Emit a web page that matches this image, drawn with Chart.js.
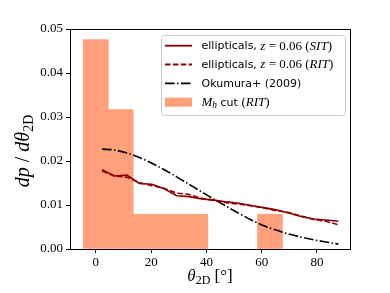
<!DOCTYPE html>
<html><head><meta charset="utf-8">
<script src="https://cdn.jsdelivr.net/npm/chart.js@4/dist/chart.umd.min.js"></script>
<style>html,body{margin:0;padding:0;background:#fff}#wrap{width:390px;height:293px;position:relative}</style>
</head><body><div id="wrap"><canvas id="c" width="390" height="293"></canvas></div>
<script>
// ---- data ----
const histCenters = [0, 9, 18, 27, 36, 63];
const histHeights = [0.0476, 0.0317, 0.0079, 0.0079, 0.0079, 0.0079];
const thetas = [2.25, 6.75, 11.25, 15.75, 20.25, 24.75, 29.25, 33.75, 38.25, 42.75,
                47.25, 51.75, 56.25, 60.75, 65.25, 69.75, 74.25, 78.75, 83.25, 87.75];
const sitValues = [0.0180, 0.0166, 0.0168, 0.0149, 0.0147, 0.0137, 0.0121, 0.0119, 0.0114, 0.0111,
                   0.0107, 0.0104, 0.0099, 0.0094, 0.0089, 0.0082, 0.0074, 0.0068, 0.0066, 0.0063];
const ritValues = [0.0177, 0.0166, 0.0163, 0.0151, 0.0144, 0.0138, 0.0127, 0.0124, 0.0115, 0.0111,
                   0.0105, 0.0102, 0.0098, 0.0093, 0.0087, 0.0083, 0.0075, 0.0067, 0.0063, 0.0055];
const okumuraValues = [0.0227, 0.0225, 0.0218, 0.0208, 0.0195, 0.0180, 0.0164, 0.0147, 0.0130, 0.0113,
                       0.0097, 0.0081, 0.0066, 0.0053, 0.0043, 0.0034, 0.0027, 0.0021, 0.0016, 0.0011];
const xTicks = [0, 20, 40, 60, 80];
const yTicks = [0.00, 0.01, 0.02, 0.03, 0.04, 0.05];
const seriesNames = ['ellipticals, z = 0.06 (SIT)', 'ellipticals, z = 0.06 (RIT)', 'Okumura+ (2009)', 'M_h cut (RIT)'];

const DARKRED = '#8B0000';
const SALMON = '#FFA07A';
const SERIF = '"Liberation Serif", "DejaVu Serif", serif';
const SANS = '"DejaVu Sans", sans-serif';

const pts = (xs, ys) => xs.map((x, i) => ({x: x, y: ys[i]}));

function drawRich(ctx, x, y, segs, align) {
  let total = 0;
  segs.forEach(s => { ctx.font = s.f; s.w = ctx.measureText(s.t).width; total += s.w; });
  let cx = align === 'center' ? x - total / 2 : x;
  segs.forEach(s => { ctx.font = s.f; ctx.fillText(s.t, cx, y + (s.dy || 0)); cx += s.w; });
}

const sans11 = '11px ' + SANS;
const ser12 = '13px ' + SERIF;
const serI12 = 'italic 13px ' + SERIF;
const serI9 = 'italic 9.5px ' + SERIF;
const legendSegs = [
  [{t:'ellipticals, ', f:sans11}, {t:'z', f:serI12}, {t:' = 0.06 (', f:ser12}, {t:'SIT', f:serI12}, {t:')', f:ser12}],
  [{t:'ellipticals, ', f:sans11}, {t:'z', f:serI12}, {t:' = 0.06 (', f:ser12}, {t:'RIT', f:serI12}, {t:')', f:ser12}],
  [{t:'Okumura+ (2009)', f:sans11}],
  [{t:'M', f:serI12}, {t:'h', f:serI9, dy:2.5}, {t:' cut ', f:sans11}, {t:'(', f:ser12}, {t:'RIT', f:serI12}, {t:')', f:ser12}]
];

const decorPlugin = {
  id: 'decor',
  afterDraw(chart) {
    const ctx = chart.ctx;
    const a = chart.chartArea;
    ctx.save();
    // frame
    ctx.strokeStyle = '#000';
    ctx.lineWidth = 1;
    ctx.strokeRect(a.left + 0.5, a.top + 0.5, a.right - a.left - 1, a.bottom - a.top);
    // legend box
    const bx = 161.5, by = 35.5, bw = 184, bh = 80;
    ctx.beginPath();
    ctx.roundRect(bx, by, bw, bh, 3);
    ctx.fillStyle = 'rgba(255,255,255,0.8)';
    ctx.fill();
    ctx.strokeStyle = '#cccccc';
    ctx.stroke();
    const rows = [45.7, 64.5, 83.3, 102.2];
    const styles = [
      {c: DARKRED, d: []},
      {c: DARKRED, d: [5.5, 2.4]},
      {c: '#000', d: [9.6, 2.4, 1.5, 2.4]}
    ];
    for (let i = 0; i < 3; i++) {
      ctx.beginPath();
      ctx.setLineDash(styles[i].d);
      ctx.strokeStyle = styles[i].c;
      ctx.lineWidth = 1.8;
      ctx.moveTo(165, rows[i]);
      ctx.lineTo(192, rows[i]);
      ctx.stroke();
    }
    ctx.setLineDash([]);
    ctx.fillStyle = SALMON;
    ctx.fillRect(165, rows[3] - 4.5, 27, 9);
    ctx.fillStyle = '#000';
    ctx.textBaseline = 'middle';
    for (let i = 0; i < 4; i++) {
      drawRich(ctx, 201.5, rows[i] + 0.5, legendSegs[i], 'left');
    }
    // x title
    ctx.textBaseline = 'alphabetic';
    drawRich(ctx, 210, 281, [
      {t:'θ', f:'italic 17px ' + SERIF},
      {t:'2D', f:'12px ' + SERIF, dy:3},
      {t:' [°]', f:'17px ' + SERIF}
    ], 'center');
    // y title
    ctx.translate(29, 151);
    ctx.rotate(-Math.PI / 2);
    drawRich(ctx, 0, 0, [
      {t:'dp', f:'italic 20px ' + SERIF},
      {t:' / ', f:'20px ' + SERIF},
      {t:'dθ', f:'italic 20px ' + SERIF},
      {t:'2D', f:'14px ' + SERIF, dy:3.5}
    ], 'center');
    ctx.restore();
  }
};

const tickFont = {family: SERIF, size: 13};

new Chart(document.getElementById('c'), {
  type: 'bar',
  data: {
    datasets: [
      {type:'line', label: seriesNames[0], data: pts(thetas, sitValues), borderColor: DARKRED,
       borderWidth: 1.6, pointRadius: 0, tension: 0, fill: false, order: 1},
      {type:'line', label: seriesNames[1], data: pts(thetas, ritValues), borderColor: DARKRED,
       borderWidth: 1.6, borderDash: [5.5, 2.4], pointRadius: 0, tension: 0, fill: false, order: 0},
      {type:'line', label: seriesNames[2], data: pts(thetas, okumuraValues), borderColor: '#000',
       borderWidth: 1.6, borderDash: [9.6, 2.4, 1.5, 2.4], pointRadius: 0, cubicInterpolationMode: 'monotone', fill: false, order: 2},
      {type:'bar', label: seriesNames[3], data: pts(histCenters, histHeights), backgroundColor: SALMON,
       borderWidth: 0, barPercentage: 1, categoryPercentage: 1, order: 10}
    ]
  },
  options: {
    responsive: false,
    animation: false,
    devicePixelRatio: 1,
    layout: {padding: {left: 0, top: 29, right: 39, bottom: 0}},
    plugins: {legend: {display: false}, tooltip: {enabled: false}},
    scales: {
      x: {
        type: 'linear', min: -9.35, max: 92.3, offset: false,
        afterBuildTicks: s => { s.ticks = xTicks.map(v => ({value: v})); },
        afterFit: s => { s.height = 44; },
        ticks: {callback: v => String(v), font: tickFont, color: '#000', padding: 2, maxRotation: 0, autoSkip: false},
        grid: {display: true, drawOnChartArea: false, drawTicks: true, tickLength: 4, color: '#000', offset: false},
        border: {display: false}
      },
      y: {
        type: 'linear', min: 0, max: 0.05,
        afterBuildTicks: s => { s.ticks = yTicks.map(v => ({value: v})); },
        afterFit: s => { s.width = 70; },
        ticks: {callback: v => Number(v).toFixed(2), font: tickFont, color: '#000', padding: 3, autoSkip: false},
        grid: {display: true, drawOnChartArea: false, drawTicks: true, tickLength: 4, color: '#000'},
        border: {display: false}
      }
    }
  },
  plugins: [decorPlugin]
});
</script></body></html>
